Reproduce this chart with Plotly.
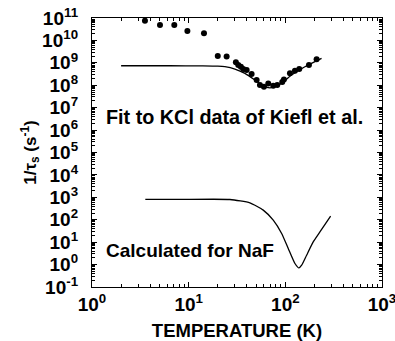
import plotly.graph_objects as go

# KCl data (Kiefl et al.)
kcl_T = [3.53, 5.05, 7.1, 9.7, 14.4, 20.0, 24.7, 30.8, 32.6, 34.7, 36.7, 39.8, 44.8,
         50.5, 54.6, 60.1, 66.6, 75.0, 82.5, 92.9, 96.7, 111.6, 125.7, 139.3, 175.5, 210.7]
kcl_rate = [7.6e10, 4.9e10, 4.9e10, 2.6e10, 2.1e10, 2.0e9, 1.9e9, 1.05e9, 8.0e8, 6.7e8,
            5.3e8, 4.8e8, 3.2e8, 1.7e8, 1.02e8, 8.6e7, 1.2e8, 9.5e7, 1.02e8, 1.4e8,
            1.8e8, 3.4e8, 4.4e8, 5.3e8, 8.0e8, 1.44e9]

# Fit to KCl data
fit_T = [2.0, 6.4, 14.0, 20.0, 23.7, 30.1, 38.2, 48.5, 56.9, 69.3, 78.0, 91.6, 116.0, 159.5, 237.0]
fit_rate = [7.4e8, 7.4e8, 7.3e8, 7.1e8, 6.7e8, 5.3e8, 3.4e8, 1.7e8, 1.02e8, 7.7e7, 8.6e7,
            1.22e8, 2.85e8, 6.7e8, 1.59e9]

# Calculated for NaF
naf_T = [3.56, 8.13, 26.7, 43.0, 59.1, 75.0, 91.6, 107.2, 125.7, 138.3, 147.5, 166.0, 194.3, 228.0, 294.0]
naf_rate = [805, 805, 800, 568, 269, 96, 24.4, 5.24, 1.12, 0.71, 0.94, 2.63, 10.3, 28.8, 145]

x_exps = [0, 1, 2, 3]
y_exps = list(range(-1, 12))
x_ticks = [10.0 ** k for k in x_exps]
y_ticks = [10.0 ** k for k in y_exps]
x_ticktext = ["10<sup>%d</sup>" % k for k in x_exps]
y_ticktext = ["10<sup>%d</sup>" % k for k in y_exps]
x_minor = [m * 10.0 ** k for k in range(0, 3) for m in range(2, 10)]
y_minor = [m * 10.0 ** k for k in range(-1, 11) for m in range(2, 10)]

fig = go.Figure()
fig.add_trace(go.Scatter(x=fit_T, y=fit_rate, mode="lines",
                         line=dict(color="black", width=1.3, shape="spline", smoothing=0.6),
                         showlegend=False))
fig.add_trace(go.Scatter(x=naf_T, y=naf_rate, mode="lines",
                         line=dict(color="black", width=1.3, shape="spline", smoothing=0.5),
                         showlegend=False))
fig.add_trace(go.Scatter(x=kcl_T, y=kcl_rate, mode="markers",
                         marker=dict(color="black", size=6),
                         showlegend=False))

fig.add_annotation(x=0.12, y=6.59, xref="x", yref="y", text="Fit to KCl data of Kiefl et al.",
                   showarrow=False, xanchor="left", yanchor="middle",
                   font=dict(family="Liberation Sans", size=19.8, color="black", weight="bold"))
fig.add_annotation(x=0.12, y=0.64, xref="x", yref="y", text="Calculated for NaF",
                   showarrow=False, xanchor="left", yanchor="middle",
                   font=dict(family="Liberation Sans", size=19, color="black", weight="bold"))

axis_common = dict(
    showline=True, linecolor="black", linewidth=1.3, mirror="allticks",
    ticks="inside", ticklen=5, tickcolor="black", tickwidth=1,
    showgrid=False, zeroline=False, automargin=False, ticklabeloverflow="allow",
    tickfont=dict(family="Liberation Sans", size=19, color="black", weight="bold"),
)

fig.update_xaxes(type="log", range=[0, 3], tickmode="array", tickvals=x_ticks,
                 ticktext=x_ticktext, **axis_common,
                 minor=dict(ticks="inside", ticklen=3, tickcolor="black", tickwidth=0.7,
                            tickmode="array", tickvals=x_minor, showgrid=False),
                 title=dict(text="TEMPERATURE (K)", standoff=19,
                            font=dict(family="Liberation Sans", size=18.5, color="black", weight="bold")))
fig.update_yaxes(type="log", range=[-1, 11], tickmode="array", tickvals=y_ticks,
                 ticktext=y_ticktext, ticklabelstandoff=9, **axis_common,
                 minor=dict(ticks="inside", ticklen=3, tickcolor="black", tickwidth=0.7,
                            tickmode="array", tickvals=y_minor, showgrid=False),
                 title=dict(text="1/τ<sub>s</sub> (s<sup>-1</sup>)", standoff=1,
                            font=dict(family="Liberation Sans", size=17, color="black", weight="bold")))

fig.update_layout(width=395, height=341, margin=dict(l=92, r=13, t=18, b=54),
                  plot_bgcolor="white", paper_bgcolor="white")

# remove the default page margin so the figure fills the 395x341 window exactly
fig.write_html("out.html", config={"displayModeBar": False},
               post_script="document.body.style.margin='0';")
